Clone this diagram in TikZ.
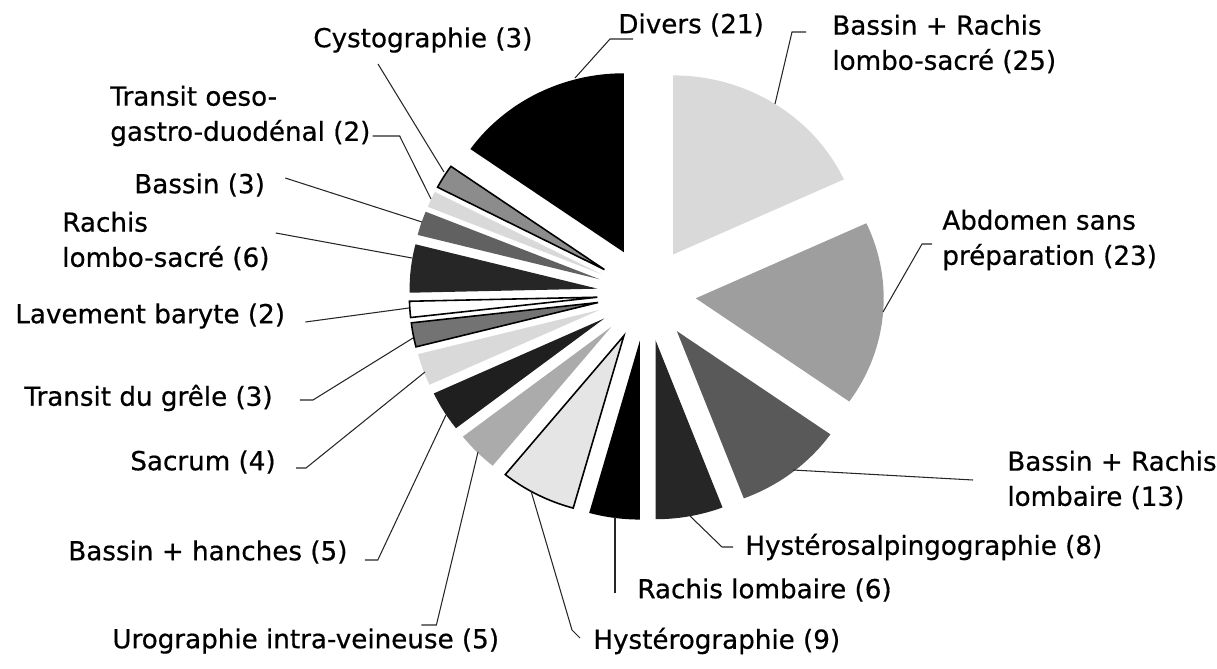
\documentclass[tikz,border=0pt]{standalone}
\usepackage{fontspec}
\setmainfont{DejaVu Sans}[FakeBold=0.6]
\begin{document}
\begin{tikzpicture}[x=0.02cm, y=0.02cm]

  % Styles
  \tikzstyle{oslice}=[draw=black, line width=0.9pt, line join=miter]
  \tikzstyle{lbl}=[anchor=west, inner sep=0pt, align=left, font=\fontsize{14.9}{20}\selectfont]
  \tikzstyle{leader}=[black!85, line width=0.6pt]

  \useasboundingbox (0,0) rectangle (1217,-669);

  % Slices, clockwise from the top
  \begin{scope}[shift={(646.6,-294)}, xscale=1.05]
    \fill[black!15] (57.39:47) -- ++(90:179) arc[start angle=90, end angle=24.78, radius=179] -- cycle;
    \fill[black!38] (-5.22:47) -- ++(24.78:179) arc[start angle=24.78, end angle=-35.22, radius=179] -- cycle;
    \fill[black!65] (-52.17:47) -- ++(-35.22:179) arc[start angle=-35.22, end angle=-69.13, radius=179] -- cycle;
    \fill[black!85] (-79.57:47) -- ++(-69.13:179) arc[start angle=-69.13, end angle=-90, radius=179] -- cycle;
    \fill[black] (-97.83:47) -- ++(-90:179) arc[start angle=-90, end angle=-105.65, radius=179] -- cycle;
    \filldraw[oslice, fill=black!10] (-117.39:47) -- ++(-105.65:179) arc[start angle=-105.65, end angle=-129.13, radius=179] -- cycle;
    \fill[black!33] (-135.65:47) -- ++(-129.13:179) arc[start angle=-129.13, end angle=-142.17, radius=179] -- cycle;
    \fill[black!88] (-148.70:47) -- ++(-142.17:179) arc[start angle=-142.17, end angle=-155.22, radius=179] -- cycle;
    \fill[black!15] (-160.43:47) -- ++(-155.22:179) arc[start angle=-155.22, end angle=-165.65, radius=179] -- cycle;
    \filldraw[oslice, fill=black!55] (-169.57:47) -- ++(-165.65:179) arc[start angle=-165.65, end angle=-173.48, radius=179] -- cycle;
    \filldraw[oslice, fill=white] (-176.09:47) -- ++(-173.48:179) arc[start angle=-173.48, end angle=-178.70, radius=179] -- cycle;
    \fill[black!85] (-186.52:47) -- ++(-178.70:179) arc[start angle=-178.70, end angle=-194.35, radius=179] -- cycle;
    \fill[black!62] (-198.26:47) -- ++(-194.35:179) arc[start angle=-194.35, end angle=-202.17, radius=179] -- cycle;
    \fill[black!15] (-204.78:47) -- ++(-202.17:179) arc[start angle=-202.17, end angle=-207.39, radius=179] -- cycle;
    \filldraw[oslice, fill=black!45] (-211.30:47) -- ++(-207.39:179) arc[start angle=-207.39, end angle=-215.22, radius=179] -- cycle;
    \fill[black] (-242.61:47) -- ++(-215.22:179) arc[start angle=-215.22, end angle=-270, radius=179] -- cycle;
  \end{scope}

  % Points on the slices
  \coordinate (p-brls) at (775,-104);
  \coordinate (p-abd) at (883,-312);
  \coordinate (p-brl) at (793,-470);
  \coordinate (p-hsg) at (690,-516);
  \coordinate (p-rl) at (615,-517);
  \coordinate (p-hystero) at (531,-491);
  \coordinate (p-uro) at (478,-452);
  \coordinate (p-hanches) at (446,-415);
  \coordinate (p-sacrum) at (425,-372);
  \coordinate (p-grele) at (413,-338);
  \coordinate (p-lav) at (409,-308);
  \coordinate (p-rls) at (412,-258);
  \coordinate (p-bassin) at (422,-222);
  \coordinate (p-togd) at (431,-199);
  \coordinate (p-cysto) at (444,-172);
  \coordinate (p-divers) at (575,-78);

  % Labels
  \node[lbl] (l-brls) at (832,-44) {Bassin + Rachis\\lombo-sacré (25)};
  \node[lbl] (l-abd) at (942,-240) {Abdomen sans\\préparation (23)};
  \node[lbl] (l-brl) at (1007,-480) {Bassin + Rachis\\lombaire (13)};
  \node[lbl] (l-hsg) at (745,-547) {Hystérosalpingographie (8)};
  \node[lbl] (l-rl) at (637,-590) {Rachis lombaire (6)};
  \node[lbl] (l-hystero) at (593,-641) {Hystérographie (9)};
  \node[lbl] (l-uro) at (112,-641) {Urographie intra-veineuse (5)};
  \node[lbl] (l-hanches) at (68,-552) {Bassin + hanches (5)};
  \node[lbl] (l-sacrum) at (130,-462) {Sacrum (4)};
  \node[lbl] (l-grele) at (24,-398) {Transit du grêle (3)};
  \node[lbl] (l-lav) at (15,-316) {Lavement baryte (2)};
  \node[lbl] (l-rls) at (62,-241) {Rachis\\lombo-sacré (6)};
  \node[lbl] (l-bassin) at (134,-185) {Bassin (3)};
  \node[lbl] (l-togd) at (110,-116) {Transit oeso-\\gastro-duodénal (2)};
  \node[lbl] (l-cysto) at (313,-40) {Cystographie (3)};
  \node[lbl] (l-divers) at (618,-25) {Divers (21)};

  % Leaders
  \draw[leader] (l-brls.west) ++(-26,12) -- ++(-14,0) -- (p-brls);
  \draw[leader] (l-abd.west) ++(-10,-4) -- ++(-10,0) -- (p-abd);
  \draw[leader] (l-brl.west) ++(-34,0) -- (p-brl);
  \draw[leader] (l-hsg.west) ++(-12,0) -- ++(-11,0) -- (p-hsg);
  \draw[leader] (l-rl.west) ++(-22,-3) -- (p-rl);
  \draw[leader] (l-hystero.west) ++(-13,3) -- ++(-8,8) -- (p-hystero);
  \draw[leader] (l-uro.east) ++(-78,16) -- ++(15,0) -- (p-uro);
  \draw[leader] (l-hanches.east) ++(17,-8) -- ++(13,0) -- (p-hanches);
  \draw[leader] (l-sacrum.east) ++(20,-6) -- ++(10,0) -- (p-sacrum);
  \draw[leader] (l-grele.east) ++(27,-2) -- ++(13,0) -- (p-grele);
  \draw[leader] (l-lav.east) ++(20,-6) -- (p-lav);
  \draw[leader] (l-rls.east) ++(6,8) -- (p-rls);
  \draw[leader] (l-bassin.east) ++(20,7) -- (p-bassin);
  \draw[leader] (l-togd.east) ++(2,-20) -- ++(27,0) -- (p-togd);
  \draw[leader] (l-cysto.west) ++(65,-24) -- (p-cysto);
  \draw[leader] (l-divers.west) ++(15,-14) -- ++(-23,0) -- (p-divers);

\end{tikzpicture}
\end{document}
